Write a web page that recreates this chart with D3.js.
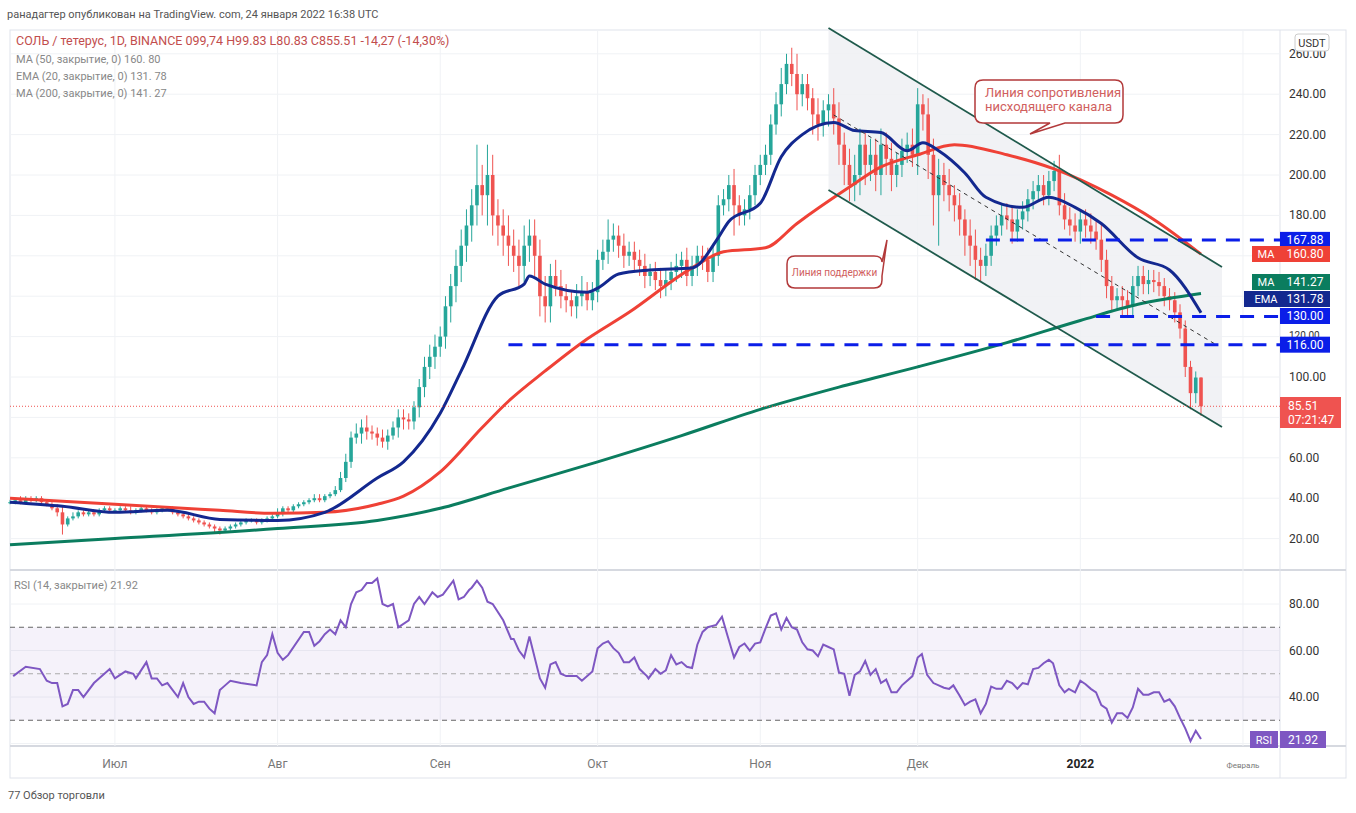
<!DOCTYPE html>
<html>
<head>
<meta charset="utf-8">
<script src="https://cdn.jsdelivr.net/npm/d3@7"></script>
<style>
  body { margin: 0; background: #fff; font-family: Roboto, "Noto Sans", sans-serif; }
  svg text { font-family: Roboto, "Noto Sans", sans-serif; }
</style>
</head>
<body>
<svg id="chart" width="1356" height="813"></svg>
<script>
// daily closes, Jun 11 2021 .. Jan 24 2022 (day 0 = Jun 11)
var closes = [
  38,39,38,40,39,40,38,37,35,33,27,30,31,33,32,33,32,34,35,34,
  34,35,34,33,34,35,34,33,34,35,35,33,32,31,30,29,28,27,26,25,24,25,26,27,28,29,29,28,29,30,31,
  33,35,34,36,37,38,39,40,39,41,42,44,50,58,70,72,75,73,72,70,68,71,75,80,79,78,85,95,105,110,115,
  120,135,145,155,165,175,185,195,190,200,180,175,170,165,160,155,165,170,160,140,135,150,145,140,138,135,140,142,138,142,
  158,162,168,170,165,160,162,158,155,150,152,148,145,148,152,155,158,150,155,160,158,152,160,185,188,195,185,180,183,190,200,
  205,210,225,235,245,255,250,240,245,238,230,225,232,235,228,215,205,195,200,215,205,210,200,215,208,200,205,212,215,210,
  235,230,210,190,200,195,190,185,178,170,165,158,155,160,170,175,180,178,172,178,182,188,192,195,190,197,202,185,178,175,172,
  178,175,172,168,158,145,138,140,138,135,145,150,146,148,147,145,140,138,132,124,105,92,99.74,85.51
];
var firstOpen = 38;
// wick extensions above / below the body
var wickUp = [
  1,1,2,1,1,1,1,1,1,2,3,1,2,1,1,1,1,1,1,1,
  1,1,1,2,1,1,1,1,1,1,1,1,1,1,1,1,1,1,1,1,1,1,1,1,1,1,1,1,1,1,1,
  2,1,1,1,1,1,1,2,2,1,1,2,3,4,3,5,4,6,3,3,4,3,3,4,4,3,3,4,5,6,6,
  5,5,6,8,8,8,8,20,10,15,10,8,8,10,8,8,10,8,8,8,10,6,8,8,6,5,6,8,5,5,
  5,6,10,6,5,6,5,5,5,6,4,5,6,5,5,6,4,6,5,5,5,6,6,5,5,5,8,5,5,5,5,
  5,5,5,6,8,5,8,10,5,5,5,8,5,5,8,8,6,8,10,8,6,8,8,8,6,8,6,6,6,8,
  8,5,8,8,8,6,8,5,6,5,8,8,6,6,5,5,6,6,6,5,5,5,5,5,5,5,5,8,6,6,6,
  5,5,6,5,8,5,5,4,5,5,5,5,5,5,5,5,4,4,4,4,4,3,3,0.1
];
var wickDn = [
  1,1,1,1,1,1,1,1,1,2,5,1,1,1,1,1,1,1,1,1,
  1,1,1,1,1,1,1,1,1,1,1,1,1,1,1,1,1,1,1,2,2,1,1,1,1,1,1,1,1,1,1,
  1,2,1,1,1,1,1,1,1,1,1,1,1,2,3,3,5,4,3,4,3,4,2,5,5,4,4,5,5,6,6,
  5,6,8,8,8,8,8,10,10,15,10,10,10,10,8,10,8,8,10,10,8,8,5,6,6,5,6,5,5,5,
  5,5,6,6,6,6,5,5,5,6,5,5,6,5,5,5,6,5,5,5,5,5,5,5,5,6,15,5,5,5,5,
  5,5,5,5,6,5,6,8,6,6,10,8,6,8,8,10,10,8,8,10,10,8,8,10,8,8,6,6,6,6,
  10,8,12,15,25,8,8,8,8,10,10,10,8,5,5,5,5,5,6,5,5,5,5,5,5,5,5,5,5,5,5,
  6,6,6,5,6,6,6,5,8,5,5,5,5,5,5,5,5,5,5,5,5,8,5,4.7
];
// indicator lines: [day, value]
var ma200 = [[0,17],[20,20],[51,25],[70,29],[82,35],[95,45],[112,58],[128,71],[143,84],[158,95],[173,105],[190,117],[204,128],[215,136],[227,141.3]];
var ma50 = [[0,40],[20,37],[40,34],[50,32.5],[60,33],[70,37],[75,41],[82,53],[90,75],[95,88],[102,103],[109,117],[118,132],[130,154],[136,162],[144,164],[150,176],[160,194],[166,204],[173,210],[180,215],[190,210],[199,203],[210,190],[218,178],[227,160.8]];
var ema20 = [[0,38],[10,36],[20,33],[30,34],[40,29.5],[51,29],[60,33],[70,50],[75,58],[82,82],[86,103],[93,140],[98,146],[99,150],[102,146],[110,142],[112,144],[116,151],[122,153],[130,154],[135,169],[137,177],[143,186],[147,209],[151,220],[157,226],[161,222],[166,221],[171,212],[174,216],[177,212],[182,201],[186,189],[193,184],[198,189],[203,184],[208,176],[215,159],[221,153],[227,131.8]];
var rsi = [[0.6,49],[3,53],[5.7,52],[7,47],[8,46],[9,46],[10,36],[11,37],[12,43],[13,43],[14,40],[16,46],[19,52],[20,48],[22,51],[23.5,50],[24,48],[26,55],[27,48],[28,48],[29,45],[30,46],[32,40],[33,46],[34,40],[35,37],[36,38],[37,38],[38,35],[39,33],[40,43],[41,45],[42,47],[44,46],[47,45],[48,55],[49,58],[50,67],[51,59],[52,56],[53,58],[56,68],[57,68],[58,62],[59,64],[60,67],[61,69],[62,67],[63,73],[64,70],[65,80],[66,85],[67,86],[68,89],[69,89],[70,91],[71,80],[72,79],[73,80],[74,70],[76,73],[77,80],[78,83],[79,80],[80.5,85],[81.5,83],[82.5,84],[83.5,87],[84.5,90],[85.5,82],[86.5,83],[87.5,86],[88,87],[89,90],[90,87],[91,81],[92,80],[94,73],[95.5,65],[96,65],[97,60],[98,57],[99,66],[101,48],[102,44],[103,54],[104,55],[105,50],[106,49],[108,49],[109,47],[111,51],[112,61],[113,63],[114,64],[115,61],[116,59],[117,55],[118,55],[119,57],[120,52],[121.4,49],[121.7,48],[123,52],[124,50],[125,51.5],[126,58],[127,54],[128,55],[129,53],[130,52.5],[131,62.5],[132,68],[133,70],[134.6,71],[135.7,74.5],[136.8,66],[138,57],[139,61.5],[140,63],[141,60],[142,63],[143,63.5],[144,69.5],[145,75],[146,76],[147,69],[148,74],[149,70],[150,69],[151,63.5],[152,60.5],[153,60],[154,57.5],[155,62.5],[156,61.5],[157,60.5],[158,50.5],[159,50],[160,40.5],[161,49.5],[162,51],[163,55.5],[164,49.5],[165,52],[166,46],[167,47.5],[168,42],[169,42],[170,45],[171,47],[172,49],[173,57],[173.8,58.5],[174.8,49.5],[176,46],[177,45],[178,44],[179,43.5],[179.8,45],[181,40.5],[182,36.5],[183,38],[184,39],[185,33],[186,37],[187,44.5],[188,43.5],[189,43.5],[190,47],[191,46],[192,43.5],[193,46],[194,45.5],[195,52],[196,52.5],[197,54.5],[198,56],[198.8,54.5],[200,45],[201,42],[201.8,43.5],[203,42],[204,47],[205,45.5],[206,43.5],[207,42],[208,36.5],[209,35],[210,29],[211,33],[212,33],[213,31],[214,35.5],[215,43.5],[216,41],[217,41],[218,42],[219,42],[220,38],[221,39],[222,36],[223,31],[224,26.5],[225,21],[226,25.5],[227,21.92]];
// drawings
var channelTop = [[156,272.8],[231,154.5]];
var channelBottom = [[156,192.6],[231,75.2]];
var channelMid = [[157,229.7],[230,115.8]];
var levels = [{v:167.88, from:186},{v:130, from:207},{v:116, from:95}];
var priceTicks = [260,240,220,200,180,120,100,60,40,20];
var rsiTicks = [80,60,40];
var months = [[20,'Июл'],[51,'Авг'],[82,'Сен'],[112,'Окт'],[143,'Ноя'],[173,'Дек'],[204,'2022'],[235,'Февраль']];

var svg = d3.select('#chart');
var x = d3.scaleLinear().domain([0,227]).range([10,1201]);
var y = d3.scaleLinear().domain([20,260]).range([538.6,53.8]);
var yr = d3.scaleLinear().domain([40,80]).range([697,604]);
var L = 10, R = 1280;

// pane frames
svg.append('rect').attr('x',L).attr('y',30).attr('width',1336).attr('height',748).attr('fill','none').attr('stroke','#e0e3eb');
svg.append('line').attr('x1',L).attr('x2',1346).attr('y1',570).attr('y2',570).attr('stroke','#d6d9e0').attr('stroke-width',2);
svg.append('line').attr('x1',L).attr('x2',1346).attr('y1',746).attr('y2',746).attr('stroke','#d6d9e0').attr('stroke-width',2);
svg.append('line').attr('x1',R).attr('x2',R).attr('y1',30).attr('y2',778).attr('stroke','#e0e3eb');

// grid
[260,240,220,200,180,160,140,120,100,80,60,40,20].forEach(function(t){
  svg.append('line').attr('x1',L).attr('x2',R).attr('y1',y(t)).attr('y2',y(t)).attr('stroke','#f0f2f5');
});
[20,40,60,80].forEach(function(t){
  svg.append('line').attr('x1',L).attr('x2',R).attr('y1',yr(t)).attr('y2',yr(t)).attr('stroke','#f0f2f5');
});
months.forEach(function(m){
  svg.append('line').attr('x1',x(m[0])).attr('x2',x(m[0])).attr('y1',30).attr('y2',746).attr('stroke','#f0f2f5');
});

// channel
var chPoly = channelTop.concat(channelBottom.slice().reverse());
svg.append('path').attr('d', d3.line().x(function(d){return x(d[0]);}).y(function(d){return y(d[1]);})(chPoly)+'Z')
  .attr('fill','#eef0f3').attr('opacity',0.85);

// candles
var candles = closes.map(function(c,i){
  var o = i ? closes[i-1] : firstOpen;
  return {i:i, o:o, c:c, h:Math.max(o,c)+(wickUp[i]||1), l:Math.min(o,c)-(wickDn[i]||1)};
});
var g = svg.append('g');
g.selectAll('line.w').data(candles).enter().append('line')
  .attr('x1',function(d){return x(d.i);}).attr('x2',function(d){return x(d.i);})
  .attr('y1',function(d){return y(d.h);}).attr('y2',function(d){return y(d.l);})
  .attr('stroke',function(d){return d.c>=d.o?'#26a69a':'#ef5350';}).attr('stroke-width',1);
g.selectAll('rect').data(candles).enter().append('rect')
  .attr('x',function(d){return x(d.i)-1.8;}).attr('width',3.6)
  .attr('y',function(d){return y(Math.max(d.o,d.c));})
  .attr('height',function(d){return Math.max(1,Math.abs(y(d.o)-y(d.c)));})
  .attr('fill',function(d){return d.c>=d.o?'#26a69a':'#ef5350';});

var line = d3.line().curve(d3.curveMonotoneX).x(function(d){return x(d[0]);}).y(function(d){return y(d[1]);});
svg.append('path').attr('d',line(ma200)).attr('fill','none').attr('stroke','#0b7d5f').attr('stroke-width',3);
svg.append('path').attr('d',line(ma50)).attr('fill','none').attr('stroke','#ef4136').attr('stroke-width',3);
svg.append('path').attr('d',line(ema20)).attr('fill','none').attr('stroke','#13288f').attr('stroke-width',3);

// channel lines
var sl = d3.line().x(function(d){return x(d[0]);}).y(function(d){return y(d[1]);});
svg.append('path').attr('d',sl(channelTop)).attr('stroke','#1f5a4c').attr('stroke-width',1.8).attr('fill','none');
svg.append('path').attr('d',sl(channelBottom)).attr('stroke','#1f5a4c').attr('stroke-width',1.8).attr('fill','none');
svg.append('path').attr('d',sl(channelMid)).attr('stroke','#333').attr('stroke-width',1).attr('stroke-dasharray','4,4').attr('fill','none');

// levels
levels.forEach(function(l){
  svg.append('line').attr('x1',x(l.from)).attr('x2',R).attr('y1',y(l.v)).attr('y2',y(l.v))
    .attr('stroke','#0b1ee8').attr('stroke-width',3).attr('stroke-dasharray','14,10');
});
// current price
svg.append('line').attr('x1',L).attr('x2',R).attr('y1',y(85.51)).attr('y2',y(85.51))
  .attr('stroke','#ef5350').attr('stroke-dasharray','1,2');

// callouts
function callout(bx,by,bw,bh,tip,lines,fs){
  var p = 'M'+(bx+8)+','+by+'H'+(bx+bw-8)+'Q'+(bx+bw)+','+by+' '+(bx+bw)+','+(by+8)+'V'+(by+bh-8)+'Q'+(bx+bw)+','+(by+bh)+' '+(bx+bw-8)+','+(by+bh)+
    'H'+tip[1]+'L'+tip[2][0]+','+tip[2][1]+'L'+tip[0]+','+(by+bh)+'H'+(bx+8)+'Q'+bx+','+(by+bh)+' '+bx+','+(by+bh-8)+'V'+(by+8)+'Q'+bx+','+by+' '+(bx+8)+','+by+'Z';
  svg.append('path').attr('d',p).attr('fill','#fff').attr('stroke','#b2393a').attr('stroke-width',1.5);
  lines.forEach(function(t,k){
    svg.append('text').attr('x',bx+10).attr('y',by+17+k*14).attr('font-size',fs).attr('fill','#d0605e').text(t);
  });
}
callout(975,80,148,43,[1050,1065,[1030,134]],['Линия сопротивления','нисходящего канала'],13);
(function(){
  var bx=787,by=256,bw=95,bh=32;
  var p='M'+(bx+8)+','+by+'H'+(bx+bw-8)+'Q'+(bx+bw)+','+by+' '+(bx+bw)+','+(by+6)+'L887,240L'+(bx+bw)+','+(by+20)+'V'+(by+bh-8)+'Q'+(bx+bw)+','+(by+bh)+' '+(bx+bw-8)+','+(by+bh)+
    'H'+(bx+8)+'Q'+bx+','+(by+bh)+' '+bx+','+(by+bh-8)+'V'+(by+8)+'Q'+bx+','+by+' '+(bx+8)+','+by+'Z';
  svg.append('path').attr('d',p).attr('fill','#fff').attr('stroke','#b2393a').attr('stroke-width',1.5);
  svg.append('text').attr('x',bx+bw/2).attr('y',by+20).attr('text-anchor','middle').attr('font-size',10).attr('fill','#d0605e').text('Линия поддержки');
})();

// RSI pane
svg.append('rect').attr('x',L).attr('y',yr(70)).attr('width',R-L).attr('height',yr(30)-yr(70)).attr('fill','#7e57c2').attr('opacity',0.08);
[70,50,30].forEach(function(t){
  svg.append('line').attr('x1',L).attr('x2',R).attr('y1',yr(t)).attr('y2',yr(t))
    .attr('stroke',t===50?'#aaa':'#666').attr('stroke-dasharray','5,4');
});
var rl = d3.line().x(function(d){return x(d[0]);}).y(function(d){return yr(d[1]);});
svg.append('path').attr('d',rl(rsi)).attr('fill','none').attr('stroke','#7e57c2').attr('stroke-width',2);

// axes labels (160, 140 and 80 are hidden behind tags as in the picture)
priceTicks.forEach(function(t){
  var small = t===120;
  svg.append('text').attr('x',1289).attr('y',small?y(t)+2:y(t)+4).attr('font-size',small?10:12).attr('fill','#333').text(t.toFixed(2));
});
rsiTicks.forEach(function(t){
  svg.append('text').attr('x',1289).attr('y',yr(t)+4).attr('font-size',12).attr('fill','#333').text(t.toFixed(2));
});
months.forEach(function(m){
  svg.append('text').attr('x',x(m[0])).attr('y',768).attr('text-anchor','middle')
    .attr('font-size',m[1]==='Февраль'?8:12).attr('font-weight',m[1]==='2022'?'bold':'normal')
    .attr('fill',m[1]==='2022'?'#222':'#777').text(m[1]);
});

// price tags
function tag(v,label,col,ty){
  var yy = ty===undefined ? y(v) : ty;
  if(label){
    svg.append('rect').attr('x',label==='EMA'?1244:1252).attr('y',yy-8).attr('width',label==='EMA'?36:28).attr('height',16).attr('fill',col);
    svg.append('text').attr('x',1266).attr('y',yy+4).attr('text-anchor','middle').attr('font-size',11).attr('fill','#fff').text(label);
  }
  svg.append('rect').attr('x',1280).attr('y',yy-8).attr('width',50).attr('height',16).attr('fill',col);
  svg.append('text').attr('x',1305).attr('y',yy+4).attr('text-anchor','middle').attr('font-size',12).attr('fill','#fff').text(v.toFixed(2));
}
tag(167.88,null,'#0b1ee8');
tag(160.80,'MA','#ef4136',254);
tag(141.27,'MA','#0b7d5f',282);
tag(131.78,'EMA','#13288f',299);
tag(130,null,'#0b1ee8',316);
tag(116,null,'#0b1ee8');
svg.append('rect').attr('x',1280).attr('y',397).attr('width',61).attr('height',31).attr('fill','#ef5350');
svg.append('text').attr('x',1288).attr('y',410).attr('font-size',12).attr('fill','#fff').text('85.51');
svg.append('text').attr('x',1288).attr('y',424).attr('font-size',12).attr('fill','#fff').text('07:21:47');
svg.append('rect').attr('x',1250).attr('y',731).attr('width',28).attr('height',17).attr('fill','#7e57c2');
svg.append('text').attr('x',1264).attr('y',744).attr('text-anchor','middle').attr('font-size',11).attr('fill','#fff').text('RSI');
svg.append('rect').attr('x',1280).attr('y',731).attr('width',46).attr('height',17).attr('fill','#7e57c2');
svg.append('text').attr('x',1303).attr('y',744).attr('text-anchor','middle').attr('font-size',12).attr('fill','#fff').text('21.92');

// USDT
svg.append('rect').attr('x',1295).attr('y',34).attr('width',34).attr('height',17).attr('rx',3).attr('fill','#fff').attr('stroke','#ccc');
svg.append('text').attr('x',1312).attr('y',47).attr('text-anchor','middle').attr('font-size',11).attr('fill','#333').text('USDT');

// header texts
svg.append('text').attr('x',7).attr('y',18).attr('font-size',11).attr('fill','#555').text('ранадагтер опубликован на TradingView. com, 24 января 2022 16:38 UTC');
svg.append('text').attr('x',16).attr('y',45).attr('font-size',12.5).attr('fill','#c24d4d').text('СОЛЬ / тетерус, 1D, BINANCE 099,74 H99.83 L80.83 C855.51 -14,27 (-14,30%)');
['MA (50, закрытие, 0) 160. 80','EMA (20, закрытие, 0) 131. 78','MA (200, закрытие, 0) 141. 27'].forEach(function(t,k){
  svg.append('text').attr('x',16).attr('y',63+k*17).attr('font-size',11).attr('fill','#888').text(t);
});
svg.append('text').attr('x',14).attr('y',589).attr('font-size',11).attr('fill','#888').text('RSI (14, закрытие) 21.92');
svg.append('text').attr('x',8).attr('y',799).attr('font-size',11).attr('fill','#555').text('77 Обзор торговли');
</script>
</body>
</html>
